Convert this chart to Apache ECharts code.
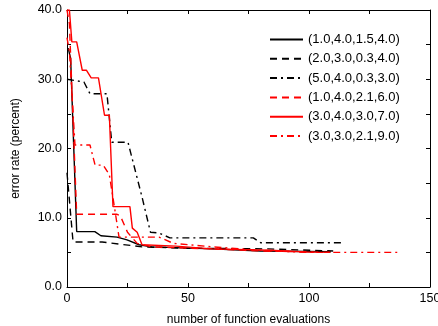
<!DOCTYPE html>
<html>
<head>
<meta charset="utf-8">
<script src="https://cdn.jsdelivr.net/npm/echarts@6/dist/echarts.min.js"></script>
<style>
  html, body { margin: 0; padding: 0; background: #fff; }
  #chart { width: 438px; height: 326px; }
</style>
</head>
<body>
<div id="chart"></div>
<script>
// 图例名称
const names = ['(1.0,4.0,1.5,4.0)', '(2.0,3.0,0.3,4.0)', '(5.0,4.0,0.3,3.0)',
  '(1.0,4.0,2.1,6.0)', '(3.0,4.0,3.0,7.0)', '(3.0,3.0,2.1,9.0)']

// 各参数组合的误差率 [函数评估次数, 误差率]
const run1 = [[0.5, 34.5], [1.5, 33], [4, 8], [11.5, 8], [14, 7.4], [20.7, 7.2], [24.8, 6.8],
  [29.8, 6.1], [35, 5.8], [60, 5.5], [80, 5.2], [109, 5.1]]
const run2 = [[0, 16.5], [2.5, 6.5], [14.5, 6.5], [31, 5.8], [50, 5.6], [83, 5.5], [110, 5.2]]
const run3 = [[0, 30], [7, 29.6], [9.5, 27.9], [16.5, 27.9], [18.5, 20.9], [25.2, 20.9], [31, 13],
  [34.5, 7.9], [38, 7.8], [42.5, 7.1], [77, 7.1], [80, 6.4], [113.6, 6.4]]
const run4 = [[0, 40], [1, 38], [4, 10.5], [20.7, 10.5], [22, 10.3], [25, 7.9], [29, 6.3],
  [35, 5.8], [60, 5.5], [80, 5.2], [110, 5.0]]
const run5 = [[0, 40], [1, 40], [2, 35.4], [4, 35.4], [6.3, 31.3], [8, 31.3], [10, 30.2], [13, 30.2],
  [15.5, 24.8], [17.5, 24.8], [19, 11.6], [26, 11.6], [27, 8.5], [29, 7.9], [31, 6.1],
  [45, 5.9], [60, 5.5], [84, 5.3], [102, 5.0]]
const run6 = [[0, 36], [1, 34], [3.3, 20.5], [9.5, 20.5], [11.6, 17.6], [15, 17.6], [17.5, 16.2],
  [19.8, 11.1], [21.5, 7.2], [38, 7.2], [44, 6.3], [60, 5.8], [80, 5.3], [100, 5.0], [138, 5.0]]

const runs = [run1, run2, run3, run4, run5, run6]
const colors = ['#000000', '#000000', '#000000', '#ff0000', '#ff0000', '#ff0000']
const dashes = ['solid', [7, 5], [7, 4, 2, 4], [7, 5], 'solid', [7, 4, 2, 4]]

const font = 'Liberation Sans, Arial, sans-serif'

const tickAxis = (extra) => Object.assign({
  type: 'value',
  axisLine: { show: true, onZero: false, lineStyle: { color: '#000', width: 1 } },
  axisTick: { show: true, inside: true, length: 4, lineStyle: { color: '#000' } },
  splitLine: { show: false },
  axisLabel: { show: false }
}, extra)

const chart = echarts.init(document.getElementById('chart'))
chart.setOption({
  animation: false,
  textStyle: { fontFamily: font },
  grid: { left: 67, right: 8, top: 10, bottom: 39, outerBoundsMode: 'none' },
  legend: {
    orient: 'vertical',
    left: 264,
    top: 28,
    itemWidth: 33,
    itemHeight: 10,
    itemGap: 6.3,
    itemStyle: { opacity: 0 },
    textStyle: { fontSize: 13, color: '#000', fontFamily: font },
    data: names
  },
  xAxis: [
    tickAxis({
      min: 0, max: 150, interval: 25, position: 'bottom',
      name: 'number of function evaluations',
      nameLocation: 'middle',
      nameGap: 27,
      nameTextStyle: { fontSize: 12, color: '#000', fontFamily: font },
      axisLabel: {
        show: true, margin: 5, fontSize: 12.5, color: '#000', fontFamily: font,
        formatter: v => (v % 50 === 0 ? String(v) : '')
      }
    }),
    tickAxis({ min: 0, max: 150, interval: 25, position: 'top' })
  ],
  yAxis: [
    tickAxis({
      min: 0, max: 40, interval: 5, position: 'left',
      name: 'error rate (percent)',
      nameLocation: 'middle',
      nameGap: 45,
      nameTextStyle: { fontSize: 12, color: '#000', fontFamily: font },
      axisLabel: {
        show: true, margin: 5, fontSize: 12.5, color: '#000', fontFamily: font,
        formatter: v => (v % 10 === 0 ? v.toFixed(1) : '')
      }
    }),
    tickAxis({ min: 0, max: 40, interval: 5, position: 'right' })
  ],
  series: runs.map((d, i) => ({
    name: names[i],
    type: 'line',
    data: d,
    symbol: 'none',
    showSymbol: false,
    clip: true,
    lineStyle: { color: colors[i], width: 1.4, type: dashes[i] },
    itemStyle: { color: colors[i] }
  }))
})
</script>
</body>
</html>
